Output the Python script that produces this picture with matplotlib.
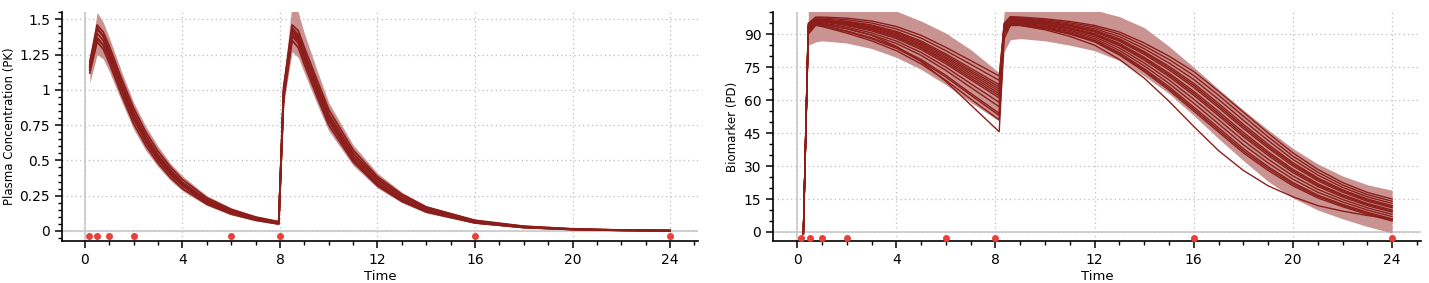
import numpy as np
import matplotlib
matplotlib.use("Agg")
import matplotlib.pyplot as plt
from matplotlib.ticker import MultipleLocator, FixedLocator

# ---- PK panel data ----
t_pk = [0.2, 0.5, 0.75, 1.0, 1.5, 2.0, 2.5, 3.0, 3.5, 4.0, 5.0, 6.0, 7.0, 7.95,
        8.15, 8.5, 8.75, 9.0, 9.5, 10, 11, 12, 13, 14, 16, 18, 20, 22, 24]
pk_curves = [
    [1.16, 1.40, 1.35, 1.25, 1.02, 0.81, 0.65, 0.52, 0.415, 0.33, 0.21, 0.135, 0.087, 0.057,
     0.98, 1.41, 1.36, 1.24, 1.02, 0.80, 0.53, 0.35, 0.23, 0.15, 0.065, 0.028, 0.012, 0.005, 0.002],
    [1.12, 1.34, 1.29, 1.19, 0.965, 0.76, 0.605, 0.48, 0.38, 0.30, 0.19, 0.12, 0.076, 0.049,
     0.93, 1.35, 1.30, 1.18, 0.96, 0.75, 0.49, 0.32, 0.21, 0.135, 0.057, 0.024, 0.010, 0.004, 0.002],
    [1.20, 1.46, 1.41, 1.31, 1.08, 0.87, 0.70, 0.565, 0.455, 0.365, 0.235, 0.153, 0.099, 0.066,
     1.02, 1.46, 1.42, 1.30, 1.08, 0.86, 0.575, 0.385, 0.26, 0.17, 0.076, 0.034, 0.015, 0.007, 0.003],
    [1.14, 1.37, 1.32, 1.22, 0.995, 0.79, 0.63, 0.50, 0.40, 0.32, 0.20, 0.128, 0.082, 0.053,
     0.96, 1.38, 1.33, 1.21, 0.99, 0.78, 0.51, 0.335, 0.22, 0.143, 0.061, 0.026, 0.011, 0.005, 0.002],
    [1.18, 1.43, 1.38, 1.28, 1.05, 0.84, 0.675, 0.54, 0.435, 0.345, 0.22, 0.143, 0.093, 0.061,
     1.00, 1.44, 1.39, 1.27, 1.05, 0.83, 0.55, 0.365, 0.245, 0.16, 0.07, 0.031, 0.013, 0.006, 0.003],
    [1.15, 1.36, 1.32, 1.23, 1.01, 0.81, 0.655, 0.53, 0.425, 0.34, 0.22, 0.143, 0.093, 0.062,
     0.97, 1.39, 1.35, 1.24, 1.03, 0.82, 0.55, 0.37, 0.245, 0.165, 0.072, 0.032, 0.014, 0.006, 0.003],
    [1.17, 1.44, 1.38, 1.27, 1.03, 0.81, 0.645, 0.51, 0.405, 0.32, 0.20, 0.127, 0.081, 0.052,
     0.99, 1.43, 1.37, 1.24, 1.01, 0.78, 0.51, 0.33, 0.215, 0.138, 0.058, 0.025, 0.011, 0.005, 0.002],
]
pk_hi = [1.20, 1.55, 1.48, 1.37, 1.13, 0.91, 0.74, 0.60, 0.48, 0.39, 0.25, 0.165, 0.107, 0.072,
         1.06, 1.62, 1.55, 1.40, 1.15, 0.91, 0.61, 0.41, 0.275, 0.18, 0.08, 0.036, 0.016, 0.007, 0.004]
pk_lo = [1.05, 1.25, 1.22, 1.13, 0.92, 0.72, 0.57, 0.455, 0.36, 0.285, 0.18, 0.113, 0.072, 0.046,
         0.90, 1.27, 1.23, 1.12, 0.91, 0.71, 0.465, 0.305, 0.20, 0.127, 0.054, 0.022, 0.009, 0.004, 0.001]

# ---- PD panel data ----
t_pd = [0.25, 0.45, 0.75, 1, 2, 3, 4, 5, 6, 7, 8.15, 8.35, 8.6, 9, 10, 11, 12, 13, 14,
        15, 16, 17, 18, 19, 20, 21, 22, 23, 24]
pd_curves = [
    [-1, 95, 97.8, 97.8, 97.3, 96, 93.5, 89.5, 84, 78, 71, 94.5, 97.6, 97.4, 96.6, 95.2, 93.3, 90, 84.7, 78.5, 71.2, 62.2, 52.7, 43.3, 34.5, 27.2, 21.4, 17, 14],
    [-1, 94.5, 97.4, 97.4, 96.6, 95.1, 92.4, 88.2, 82.5, 76.3, 69, 95, 98, 97.8, 97, 95.8, 94, 91, 86, 80, 73, 64, 54.5, 45, 36, 28.5, 22.5, 18, 15],
    [-1, 94, 97.0, 96.9, 95.9, 94.2, 91.3, 86.9, 81, 74.5, 67, 93.5, 96.8, 96.7, 95.7, 94.1, 91.8, 87.9, 82.1, 75.4, 67.6, 58.5, 49, 39.9, 31.5, 24.6, 19.2, 15, 12],
    [-1, 93.5, 96.7, 96.5, 95.3, 93.3, 90.2, 85.6, 79.5, 72.8, 65, 94, 97.2, 97.0, 96.1, 94.6, 92.5, 88.9, 83.4, 76.9, 69.4, 60.3, 50.8, 41.6, 33, 25.9, 20.3, 16, 13],
    [-1, 93, 96.3, 96.1, 94.6, 92.4, 89.1, 84.3, 78, 71, 63, 92.5, 96, 95.9, 94.8, 92.9, 90.3, 85.8, 79.5, 72.3, 64, 54.8, 45.3, 36.5, 28.5, 22, 17, 13, 10],
    [-1, 92.5, 95.9, 95.7, 93.9, 91.5, 88, 83, 76.5, 69.3, 61, 93, 96.4, 96.3, 95.2, 93.5, 91, 86.8, 80.8, 73.8, 65.8, 56.6, 47.1, 38.2, 30, 23.3, 18.1, 14, 11],
    [-1, 92, 95.5, 95.2, 93.2, 90.6, 86.9, 81.7, 75, 67.5, 59, 91.5, 95.2, 95.1, 93.9, 91.7, 88.8, 83.7, 76.9, 69.2, 60.4, 51.1, 41.6, 33.1, 25.5, 19.4, 14.8, 11, 8],
    [-1, 91.5, 95.1, 94.8, 92.5, 89.7, 85.8, 80.4, 73.5, 65.8, 57, 92, 95.6, 95.5, 94.3, 92.3, 89.5, 84.7, 78.2, 70.7, 62.2, 52.9, 43.4, 34.8, 27, 20.7, 15.9, 12, 9],
    [-1, 90.8, 94.6, 94.1, 91.5, 88.4, 84.2, 78.5, 71.3, 63.1, 54, 90.5, 94.4, 94.4, 93, 90.6, 87.3, 81.6, 74.3, 66.1, 56.8, 47.4, 37.9, 29.7, 22.5, 16.8, 12.6, 9, 6],
    [-1, 90, 94, 93.5, 90.5, 87, 82.5, 76.5, 69, 60.5, 51, 91, 94.8, 94.8, 93.4, 91.2, 88, 82.6, 75.6, 67.6, 58.6, 49.2, 39.7, 31.4, 24, 18.1, 13.7, 10, 7],
    [-1, 92.8, 96.1, 95.9, 94.2, 92, 88.6, 83.7, 77.3, 70.1, 62, 90.3, 94.2, 94.2, 92.7, 90.3, 86.9, 81, 73.7, 65.3, 55.9, 46.4, 36.9, 28.9, 21.8, 16.2, 12.1, 8.5, 5.5],
    [-1, 93.8, 96.9, 96.7, 95.6, 93.8, 90.8, 86.3, 80.3, 73.6, 66, 92.3, 95.8, 95.7, 94.5, 92.6, 89.9, 85.2, 78.9, 71.5, 63.1, 53.8, 44.3, 35.7, 27.8, 21.4, 16.5, 12.5, 9.5],
    [-1, 90.5, 94.4, 93.9, 91.2, 87.9, 83.6, 77.8, 70.5, 62.3, 53, 93.3, 96.6, 96.5, 95.4, 93.8, 91.4, 87.3, 81.5, 74.6, 66.7, 57.5, 48, 39, 30.8, 24, 18.7, 14.5, 11.5],
    [-1, 93.3, 96.5, 96.3, 94.9, 92.9, 89.7, 85, 78.8, 71.9, 64, 90, 94, 94, 92.5, 90, 86.5, 80.5, 73, 64.5, 55, 45.5, 36, 28, 21, 15.5, 11.5, 8, 5],
]
# one subject sampled without the t=7 point
t_pd_low = [0.25, 0.45, 0.75, 1, 2, 3, 4, 5, 6, 8.15, 8.35, 8.6, 9, 10, 11, 12, 13, 14,
            15, 16, 17, 18, 19, 20, 21, 22, 23, 24]
pd_low = [-1, 91, 95, 94.5, 92.5, 89.5, 84.5, 77.5, 68.5, 45.6, 88, 94, 94, 92, 89, 85, 78.5, 70,
          59.5, 48, 37, 28, 21, 16, 12, 9.5, 7.5, 6]

t_pd_band = [0.45, 0.75, 1, 2, 3, 4, 5, 6, 7, 8.15, 8.35, 8.6, 9, 10, 11, 12, 13, 14,
             15, 16, 17, 18, 19, 20, 21, 22, 23, 24]
pd_lo = [85, 86.5, 87, 86, 83.5, 79.5, 74, 67, 59, 50.5, 82, 87.5, 88, 87, 85, 82.5, 78, 71,
         63, 53, 42.5, 32.5, 23, 15.5, 10, 6, 2.5, -0.5]
pd_hi = [104, 105, 105, 105, 104, 100.5, 96, 90.5, 83, 72.5, 100, 104, 105, 105, 104, 101, 98, 93,
         84.5, 75, 65, 55.5, 46.5, 38, 31, 25.5, 21.5, 19]

# observation times
obs_t = [0.17, 0.5, 1, 2, 6, 8, 16, 24]

line_c = '#8b1e1a'
band_c = '#c99391'
dot_c = '#e8413a'
grid_c = '#bdbdbd'
zero_c = '#c8c8c8'

fig = plt.figure(figsize=(14.29, 2.83), dpi=100)
ax1 = fig.add_axes([0.0434, 0.1484, 0.4451, 0.8092])
ax2 = fig.add_axes([0.5410, 0.1484, 0.4535, 0.8092])


def style(ax, ylabel, label_x):
    for s in ['top', 'right']:
        ax.spines[s].set_visible(False)
    for s in ['left', 'bottom']:
        ax.spines[s].set_linewidth(1.2)
    ax.tick_params(which='major', direction='out', length=5, width=1.1, labelsize=10)
    ax.tick_params(which='minor', direction='out', length=3, width=1.0)
    ax.xaxis.set_major_locator(FixedLocator([0, 4, 8, 12, 16, 20, 24]))
    ax.xaxis.set_minor_locator(MultipleLocator(1))
    ax.grid(True, which='major', color=grid_c, linestyle=(0, (1, 2.5)), linewidth=0.9)
    ax.set_axisbelow(True)
    ax.axvline(0, color=zero_c, lw=1.2, zorder=1)
    ax.axhline(0, color=zero_c, lw=1.2, zorder=1)
    ax.set_xlabel('Time', fontsize=9.5, labelpad=2)
    ax.set_ylabel(ylabel, fontsize=8.5)
    ax.yaxis.set_label_coords(label_x, 0.5)


# PK
style(ax1, 'Plasma Concentration (PK)', -0.073)
ax1.fill_between(t_pk, pk_lo, pk_hi, color=band_c, lw=0, zorder=2)
for c in pk_curves:
    ax1.plot(t_pk, c, color=line_c, lw=1.3, zorder=3)
ax1.plot(obs_t, [-0.035] * len(obs_t), 'o', color=dot_c, ms=4, zorder=4, clip_on=False)
ax1.set_xlim(-0.94, 25.15)
ax1.set_ylim(-0.071, 1.552)
pk_ticks = [0, 0.25, 0.5, 0.75, 1, 1.25, 1.5]
ax1.yaxis.set_major_locator(FixedLocator(pk_ticks))
ax1.set_yticklabels(['0', '0.25', '0.5', '0.75', '1', '1.25', '1.5'])
ax1.yaxis.set_minor_locator(MultipleLocator(0.05))

# PD
style(ax2, 'Biomarker (PD)', -0.052)
ax2.fill_between(t_pd_band, pd_lo, pd_hi, color=band_c, lw=0, zorder=2)
for c in pd_curves:
    ax2.plot(t_pd, c, color=line_c, lw=1.0, zorder=3)
ax2.plot(t_pd_low, pd_low, color=line_c, lw=1.0, zorder=3)
ax2.plot(obs_t, [-2.6] * len(obs_t), 'o', color=dot_c, ms=4, zorder=4, clip_on=False)
ax2.set_xlim(-0.97, 25.17)
ax2.set_ylim(-4.1, 100.1)
ax2.yaxis.set_major_locator(MultipleLocator(15))
ax2.yaxis.set_minor_locator(MultipleLocator(5))

fig.savefig('out.png', dpi=100)
